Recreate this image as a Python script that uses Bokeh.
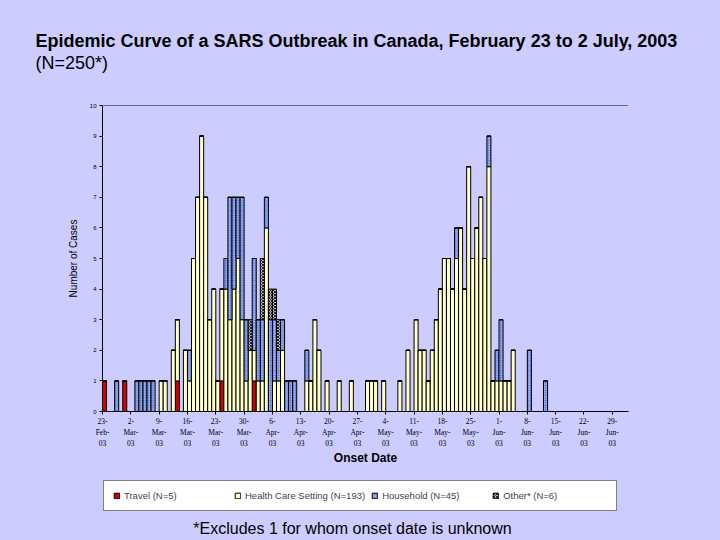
from datetime import date
from bokeh.plotting import figure
from bokeh.layouts import column
from bokeh.models import (ColumnDataSource, FixedTicker, Span, Legend, LegendItem,
                          Label, Range1d, Title)
from bokeh.embed import file_html
from bokeh.resources import INLINE

start_date = "2003-02-23"

onset_dates = [
    "2003-02-23", "2003-02-26", "2003-02-28", "2003-03-03", "2003-03-04", "2003-03-05",
    "2003-03-06", "2003-03-07", "2003-03-09", "2003-03-10", "2003-03-12", "2003-03-13",
    "2003-03-15", "2003-03-16", "2003-03-17", "2003-03-18", "2003-03-19", "2003-03-20",
    "2003-03-21", "2003-03-22", "2003-03-23", "2003-03-24", "2003-03-25", "2003-03-26",
    "2003-03-27", "2003-03-28", "2003-03-29", "2003-03-30", "2003-03-31", "2003-04-01",
    "2003-04-02", "2003-04-03", "2003-04-04", "2003-04-05", "2003-04-06", "2003-04-07",
    "2003-04-08", "2003-04-09", "2003-04-10", "2003-04-11", "2003-04-14", "2003-04-15",
    "2003-04-16", "2003-04-17", "2003-04-19", "2003-04-22", "2003-04-25", "2003-04-29",
    "2003-04-30", "2003-05-01", "2003-05-03", "2003-05-07", "2003-05-09", "2003-05-11",
    "2003-05-12", "2003-05-13", "2003-05-14", "2003-05-15", "2003-05-16", "2003-05-17",
    "2003-05-18", "2003-05-19", "2003-05-20", "2003-05-21", "2003-05-22", "2003-05-23",
    "2003-05-24", "2003-05-25", "2003-05-26", "2003-05-27", "2003-05-28", "2003-05-29",
    "2003-05-30", "2003-05-31", "2003-06-01", "2003-06-02", "2003-06-03", "2003-06-04",
    "2003-06-08", "2003-06-12",
]
travel = [
    1, 0, 1, 0, 0, 0, 0, 0, 0, 0, 0, 1,
    0, 0, 0, 0, 0, 0, 0, 0, 0, 1, 0, 0,
    0, 0, 0, 0, 0, 1, 0, 0, 0, 0, 0, 0,
    0, 0, 0, 0, 0, 0, 0, 0, 0, 0, 0, 0,
    0, 0, 0, 0, 0, 0, 0, 0, 0, 0, 0, 0,
    0, 0, 0, 0, 0, 0, 0, 0, 0, 0, 0, 0,
    0, 0, 0, 0, 0, 0, 0, 0,
]
health_care = [
    0, 0, 0, 0, 0, 0, 0, 0, 1, 1, 2, 2,
    2, 1, 5, 7, 9, 7, 3, 4, 1, 3, 4, 3,
    4, 5, 3, 1, 2, 1, 1, 1, 6, 0, 1, 1,
    2, 0, 0, 0, 1, 1, 3, 2, 1, 1, 1, 1,
    1, 1, 1, 1, 2, 3, 2, 2, 1, 2, 3, 4,
    5, 5, 4, 5, 6, 4, 8, 5, 6, 7, 5, 8,
    1, 1, 1, 1, 1, 2, 0, 0,
]
household = [
    0, 1, 0, 1, 1, 1, 1, 1, 0, 0, 0, 0,
    0, 1, 0, 0, 0, 0, 0, 0, 0, 0, 1, 4,
    3, 2, 4, 2, 0, 3, 2, 2, 1, 3, 2, 1,
    1, 1, 1, 1, 1, 0, 0, 0, 0, 0, 0, 0,
    0, 0, 0, 0, 0, 0, 0, 0, 0, 0, 0, 0,
    0, 0, 0, 1, 0, 0, 0, 0, 0, 0, 0, 1,
    0, 1, 2, 0, 0, 0, 2, 1,
]
other = [
    0, 0, 0, 0, 0, 0, 0, 0, 0, 0, 0, 0,
    0, 0, 0, 0, 0, 0, 0, 0, 0, 0, 0, 0,
    0, 0, 0, 0, 1, 0, 0, 2, 0, 1, 1, 1,
    0, 0, 0, 0, 0, 0, 0, 0, 0, 0, 0, 0,
    0, 0, 0, 0, 0, 0, 0, 0, 0, 0, 0, 0,
    0, 0, 0, 0, 0, 0, 0, 0, 0, 0, 0, 0,
    0, 0, 0, 0, 0, 0, 0, 0,
]

tick_dates = [
    "2003-02-23", "2003-03-02", "2003-03-09", "2003-03-16", "2003-03-23", "2003-03-30",
    "2003-04-06", "2003-04-13", "2003-04-20", "2003-04-27", "2003-05-04", "2003-05-11",
    "2003-05-18", "2003-05-25", "2003-06-01", "2003-06-08", "2003-06-15", "2003-06-22",
    "2003-06-29",
]
tick_labels = [
    "23-\nFeb-\n03", "2-\nMar-\n03", "9-\nMar-\n03", "16-\nMar-\n03", "23-\nMar-\n03",
    "30-\nMar-\n03", "6-\nApr-\n03", "13-\nApr-\n03", "20-\nApr-\n03", "27-\nApr-\n03",
    "4-\nMay-\n03", "11-\nMay-\n03", "18-\nMay-\n03", "25-\nMay-\n03", "1-\nJun-\n03",
    "8-\nJun-\n03", "15-\nJun-\n03", "22-\nJun-\n03", "29-\nJun-\n03",
]
end_date = "2003-07-03"
y_ticks = [0, 1, 2, 3, 4, 5, 6, 7, 8, 9, 10]

series = ["travel", "health_care", "household", "other"]
legend_labels = ["Travel (N=5)", "Health Care Setting (N=193)", "Household (N=45)", "Other* (N=6)"]
title_text = "Epidemic Curve of a SARS Outbreak in Canada, February 23 to 2 July, 2003"
subtitle_text = "(N=250*)"
footnote_text = "*Excludes 1 for whom onset date is unknown"

BG = "#CCCCFF"
W = 720
TOP_H, MAIN_H, BOT_H = 80, 390, 70
LEFT, RIGHT = 102, 92

d0 = date.fromisoformat(start_date)
def day_of(s):
    return (date.fromisoformat(s) - d0).days

src = ColumnDataSource(dict(
    x=[day_of(s) + 0.5 for s in onset_dates],
    travel=travel, health_care=health_care, household=household, other=other,
))

bar_style = dict(
    fill_color=["#D40000", "#FFFFCC", "#6A87E0", "#B8B8B8"],
    line_color="black", line_width=1,
    hatch_pattern=[" ", " ", "dot", "diagonal_cross"],
    hatch_color=["black", "black", "#EEF2FF", "#202020"],
    hatch_scale=[4, 4, 2.5, 3], hatch_weight=[1, 1, 1, 1],
)

common = dict(width=W, output_backend="svg", toolbar_location=None,
              min_border_left=LEFT, min_border_right=RIGHT,
              background_fill_alpha=0, border_fill_color=BG, outline_line_color=None)

# ---- top: titles in side panels (not clipped)
top = figure(height=TOP_H, x_range=Range1d(0, 1), y_range=Range1d(0, 1),
             min_border_top=73, min_border_bottom=0, **common)
top.axis.visible = False
top.grid.visible = False
top.add_layout(Title(text=subtitle_text, align="left", offset=35 - LEFT, standoff=0,
                     vertical_align="middle", text_baseline="middle",
                     text_font="Liberation Sans", text_font_size="18px",
                     text_font_style="normal", text_color="black"), "above")
top.add_layout(Title(text=title_text, align="left", offset=35 - LEFT, standoff=0,
                     vertical_align="middle", text_baseline="middle",
                     text_font="Liberation Sans", text_font_size="18px",
                     text_font_style="bold", text_color="black"), "above")

# ---- main chart
p = figure(height=MAIN_H, x_range=Range1d(0, day_of(end_date)), y_range=Range1d(0, 10),
           min_border_top=105 - TOP_H, min_border_bottom=TOP_H + MAIN_H - 411, **common)

p.vbar_stack(series, x="x", width=1, source=src, **bar_style)
p.add_layout(Span(location=10, dimension="width", line_color="black", line_width=1))

p.grid.visible = False
p.xaxis.ticker = FixedTicker(ticks=[day_of(s) for s in tick_dates])
p.xaxis.major_label_overrides = {day_of(s): lab for s, lab in zip(tick_dates, tick_labels)}
p.xaxis.major_label_text_font = "Liberation Serif"
p.xaxis.major_label_text_font_size = "7.5px"
p.xaxis.major_label_text_line_height = 1.25
p.xaxis.major_label_standoff = 2
p.xaxis.axis_label = "Onset Date"
p.xaxis.axis_label_text_font = "Liberation Sans"
p.xaxis.axis_label_text_font_style = "bold"
p.xaxis.axis_label_text_font_size = "12px"
p.xaxis.axis_label_standoff = 0

p.yaxis.ticker = FixedTicker(ticks=y_ticks)
p.yaxis.major_label_text_font = "Liberation Sans"
p.yaxis.major_label_text_font_size = "6px"
p.yaxis.major_label_standoff = 3
p.yaxis.axis_label = "Number of Cases"
p.yaxis.axis_label_text_font = "Liberation Sans"
p.yaxis.axis_label_text_font_style = "normal"
p.yaxis.axis_label_text_font_size = "10px"
p.yaxis.axis_label_standoff = 8

for ax in (p.xaxis, p.yaxis):
    ax.axis_line_color = "black"
    ax.major_tick_line_color = "black"
    ax.major_tick_out = 3
    ax.major_tick_in = 0
    ax.minor_tick_line_color = None
    ax.major_label_text_color = "black"
    ax.axis_label_text_color = "black"

# ---- bottom: legend + footnote (frame spans page x LEFT..W-RIGHT, data = page px)
bot = figure(height=BOT_H, x_range=Range1d(LEFT, W - RIGHT), y_range=Range1d(0, BOT_H),
             min_border_top=0, min_border_bottom=0, **common)
bot.axis.visible = False
bot.grid.visible = False
legend_rs = bot.vbar_stack(series, x="x", width=1, source=src, visible=False, **bar_style)
legend = Legend(items=[LegendItem(label=l, renderers=[r]) for l, r in zip(legend_labels, legend_rs)],
                orientation="horizontal", location=(1, BOT_H - 41),
                border_line_color="black", border_line_width=1,
                background_fill_color="white", background_fill_alpha=1,
                label_text_font="Liberation Sans", label_text_font_size="9.5px",
                glyph_width=7, glyph_height=7, label_width=104, spacing=6,
                padding=9, margin=0, label_standoff=4)
bot.add_layout(legend)
bot.add_layout(Label(x=352, y=BOT_H - 58, text=footnote_text,
                     text_font="Liberation Sans", text_font_size="16px", text_align="center",
                     text_baseline="middle", text_color="black"))

layout = column(top, p, bot, spacing=0, styles={"background-color": BG})
open("out.html", "w").write(file_html(layout, INLINE))
